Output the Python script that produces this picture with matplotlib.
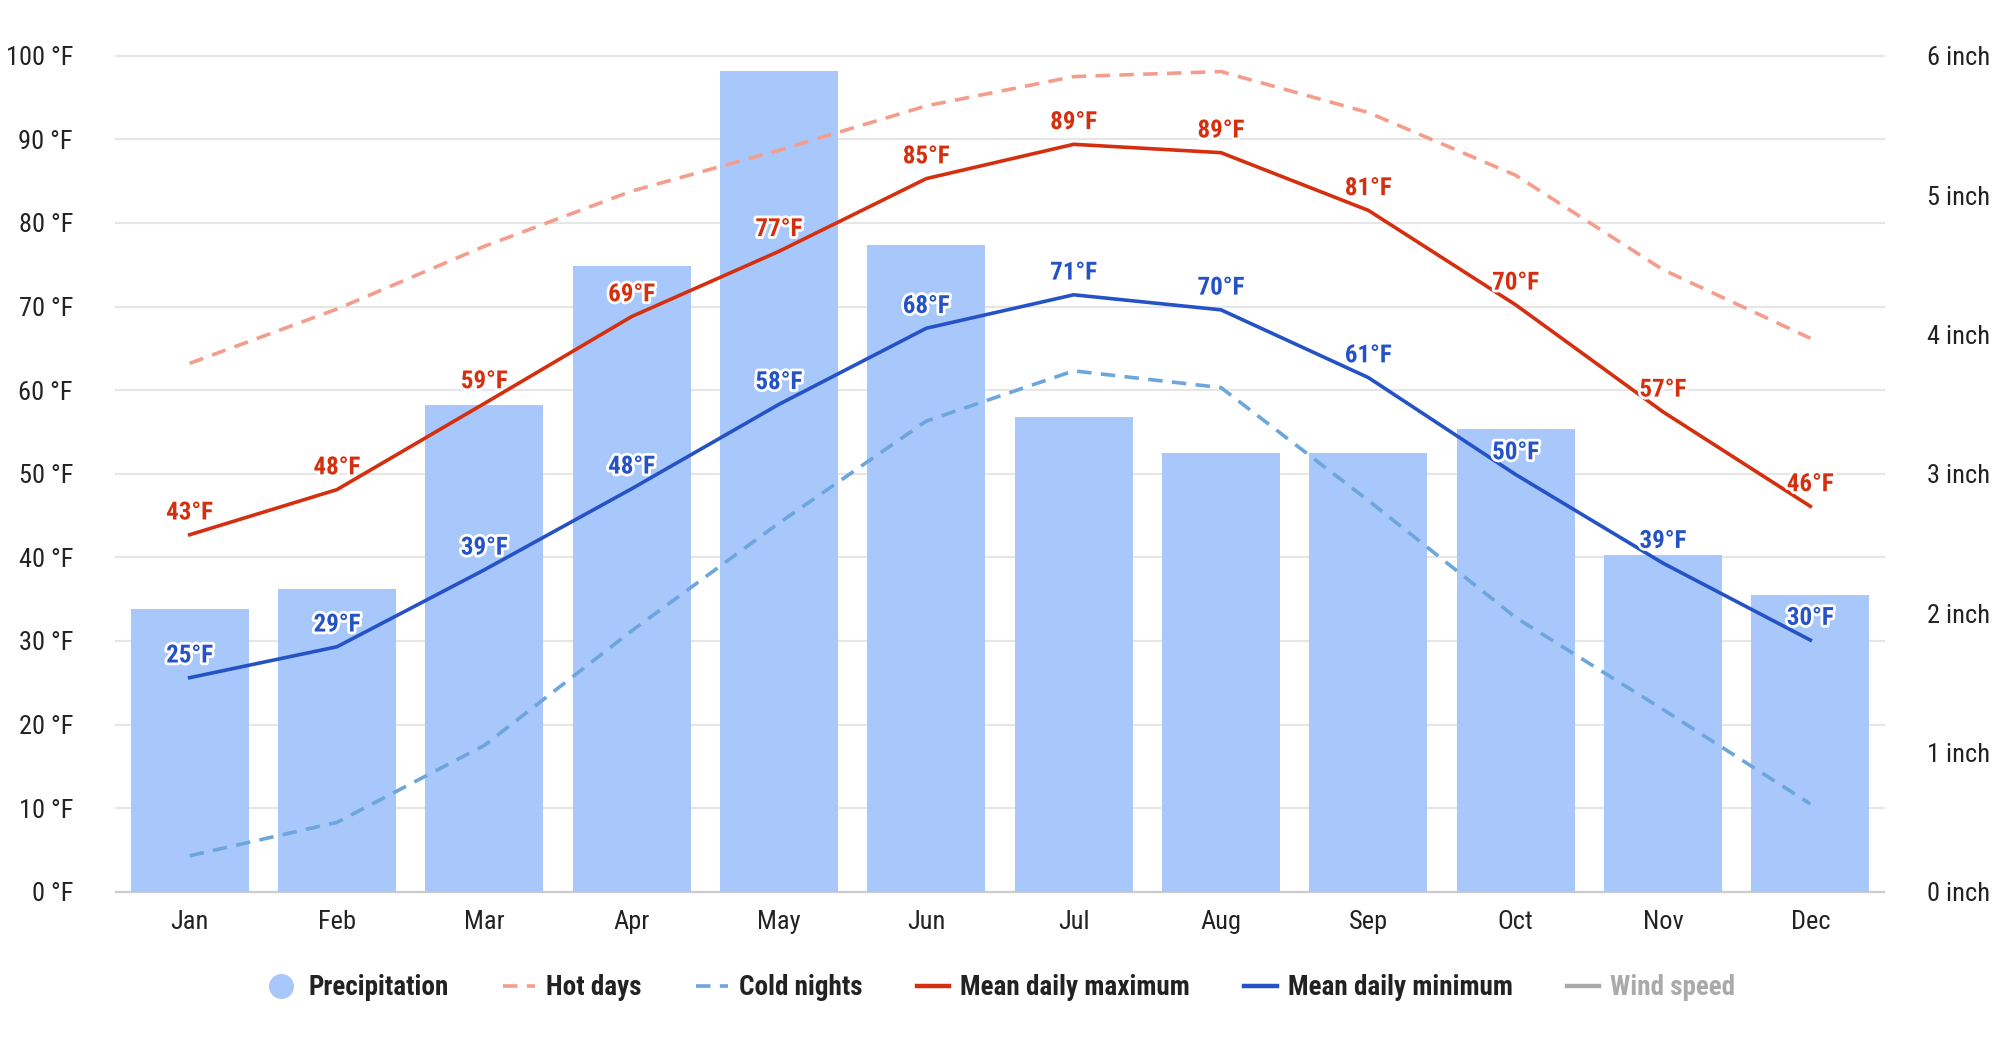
import matplotlib
matplotlib.use("Agg")
import matplotlib.pyplot as plt
import matplotlib.patheffects as pe
from matplotlib.lines import Line2D
from matplotlib import font_manager

months = ["Jan", "Feb", "Mar", "Apr", "May", "Jun", "Jul", "Aug", "Sep", "Oct", "Nov", "Dec"]
precip_in = [2.03, 2.17, 3.49, 4.49, 5.89, 4.64, 3.41, 3.15, 3.15, 3.32, 2.42, 2.13]
hot_days = [63.2, 69.7, 77.2, 83.8, 88.7, 94.0, 97.5, 98.1, 93.2, 85.7, 74.4, 66.2]
cold_nights = [4.3, 8.3, 17.5, 31.2, 44.1, 56.3, 62.3, 60.3, 46.8, 32.8, 21.8, 10.5]
mean_max = [42.7, 48.1, 58.4, 68.8, 76.6, 85.3, 89.4, 88.4, 81.5, 70.2, 57.4, 46.1]
mean_min = [25.6, 29.3, 38.5, 48.2, 58.3, 67.4, 71.4, 69.6, 61.5, 49.9, 39.3, 30.1]
max_labels = [43, 48, 59, 69, 77, 85, 89, 89, 81, 70, 57, 46]
min_labels = [25, 29, 39, 48, 58, 68, 71, 70, 61, 50, 39, 30]
temp_ticks = [0, 10, 20, 30, 40, 50, 60, 70, 80, 90, 100]
inch_ticks = [0, 1, 2, 3, 4, 5, 6]

available = {f.name for f in font_manager.fontManager.ttflist}
FONT = [f for f in ["Roboto Condensed", "Liberation Sans Narrow", "Roboto", "DejaVu Sans"]
        if f in available]
plt.rcParams["font.family"] = FONT

C_BAR = "#a8c8fb"
C_HOT = "#f59d8c"
C_COLD = "#6ca6dd"
C_MAX = "#d43010"
C_MIN = "#2553c6"
C_WIND = "#aaaaaa"
FS_TICK = 19
FS_LAB = 18
FS_LEG = 19.5

fig = plt.figure(figsize=(20, 10.41), dpi=100)
ax = fig.add_axes([0.058, 0.1434, 0.884, 0.8031])
x = list(range(len(months)))

ax.set_ylim(0, 100)
ax.set_xlim(-0.5, 11.5)
ax.set_yticks(temp_ticks)
ax.set_yticklabels([f"{t} °F" for t in temp_ticks], fontsize=FS_TICK, color="#222222")
ax.set_xticks(x)
ax.set_xticklabels(months, fontsize=FS_TICK, color="#222222")
ax.tick_params(axis="both", length=0)
ax.tick_params(axis="y", pad=31)
ax.tick_params(axis="x", pad=13)
ax.grid(axis="y", color="#e6e6e6", linewidth=1.5)
for gl in ax.get_ygridlines():
    gl.set_clip_on(False)
ax.set_axisbelow(True)
for s in ["top", "right", "left"]:
    ax.spines[s].set_visible(False)
ax.spines["bottom"].set_color("#cccccc")
ax.spines["bottom"].set_linewidth(1.6)
ax.spines["bottom"].set_zorder(5)

ax2 = ax.twinx()
ax2.set_ylim(0, 6)
ax2.bar(x, precip_in, width=0.8, color=C_BAR, zorder=2)
ax2.set_yticks(inch_ticks)
ax2.set_yticklabels([f"{t} inch" for t in inch_ticks], fontsize=FS_TICK, color="#222222")
ax2.tick_params(axis="y", length=0, pad=31)
for s in ["top", "right", "left", "bottom"]:
    ax2.spines[s].set_visible(False)

ax3 = ax.twinx()
ax3.set_ylim(0, 100)
ax3.set_xlim(-0.5, 11.5)
ax3.set_yticks([])
for s in ["top", "right", "left", "bottom"]:
    ax3.spines[s].set_visible(False)

lw = 2.6
ax3.plot(x, hot_days, color=C_HOT, lw=lw, dashes=(4, 2.6))
ax3.plot(x, cold_nights, color=C_COLD, lw=lw, dashes=(4, 2.6))
ax3.plot(x, mean_max, color=C_MAX, lw=lw)
ax3.plot(x, mean_min, color=C_MIN, lw=lw)

stroke = [pe.withStroke(linewidth=4, foreground="white")]
for xi, v, lab in zip(x, mean_max, max_labels):
    ax3.annotate(f"{lab}°F", (xi, v), xytext=(0, 16), textcoords="offset points",
                 ha="center", va="center", fontsize=FS_LAB, fontweight="bold",
                 color=C_MAX, path_effects=stroke, zorder=10)
for xi, v, lab in zip(x, mean_min, min_labels):
    ax3.annotate(f"{lab}°F", (xi, v), xytext=(0, 16), textcoords="offset points",
                 ha="center", va="center", fontsize=FS_LAB, fontweight="bold",
                 color=C_MIN, path_effects=stroke, zorder=10)

handles = [
    Line2D([], [], marker="o", linestyle="none", markersize=17, color=C_BAR),
    Line2D([], [], color=C_HOT, lw=lw, dashes=(4, 2.6)),
    Line2D([], [], color=C_COLD, lw=lw, dashes=(4, 2.6)),
    Line2D([], [], color=C_MAX, lw=lw + 0.6),
    Line2D([], [], color=C_MIN, lw=lw + 0.6),
    Line2D([], [], color=C_WIND, lw=lw + 0.6),
]
names = ["Precipitation", "Hot days", "Cold nights", "Mean daily maximum",
         "Mean daily minimum", "Wind speed"]
leg = fig.legend(handles, names, loc="center", bbox_to_anchor=(0.5, 0.051), ncol=6,
                 frameon=False, prop={"family": FONT, "weight": "bold", "size": FS_LEG},
                 handlelength=1.2, handletextpad=0.4, columnspacing=2.0)
for t, name in zip(leg.get_texts(), names):
    t.set_color(C_WIND if name == "Wind speed" else "#222222")

fig.savefig("out.png", dpi=100, facecolor="white")
